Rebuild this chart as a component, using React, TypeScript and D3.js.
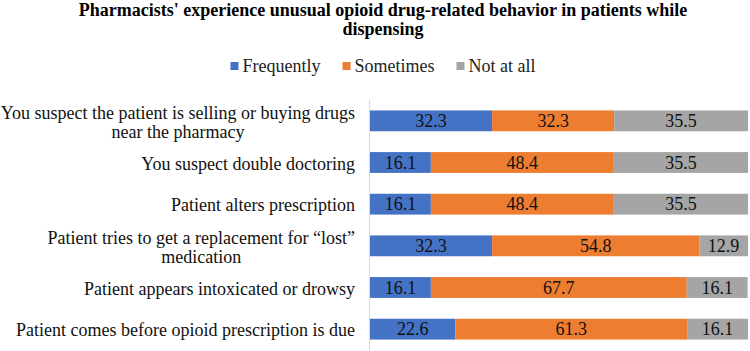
import React, { useEffect, useRef } from 'react';
import * as d3 from 'd3';

// survey answers, percent of pharmacists
const categories = [
  'You suspect the patient is selling or buying drugs\nnear the pharmacy',
  'You suspect double doctoring',
  'Patient alters prescription',
  'Patient tries to get a replacement for \u201clost\u201d\nmedication',
  'Patient appears intoxicated or drowsy',
  'Patient comes before opioid prescription is due',
];
const frequently = [32.3, 16.1, 16.1, 32.3, 16.1, 22.6];
const sometimes = [32.3, 48.4, 48.4, 54.8, 67.7, 61.3];
const notAtAll = [35.5, 35.5, 35.5, 12.9, 16.1, 16.1];
const seriesNames = ['Frequently', 'Sometimes', 'Not at all'];
const colors = ['#4472C4', '#ED7D31', '#A5A5A5'];

const W = 750;
const H = 351;
const FONT = '"Liberation Serif", "Times New Roman", serif';

const App = () => {
  const svgRef = useRef<SVGSVGElement>(null);

  useEffect(() => {
    const svg = d3.select(svgRef.current);
    svg.selectAll('*').remove();

    const rows = categories.map((c, i) => ({
      cat: c,
      Frequently: frequently[i],
      Sometimes: sometimes[i],
      'Not at all': notAtAll[i],
    }));
    const stacked = d3.stack<any>().keys(seriesNames)(rows);

    const x = d3.scaleLinear().domain([0, 100]).range([370, 748]);
    const y = d3.scaleBand().domain(categories).range([100, 350]).paddingInner(0.5).paddingOuter(0.25);
    const color = d3.scaleOrdinal<string>().domain(seriesNames).range(colors);

    // title
    const title = svg.append('text')
      .attr('text-anchor', 'middle')
      .attr('font-family', FONT)
      .attr('font-weight', 'bold')
      .attr('font-size', 18)
      .attr('fill', '#000');
    title.append('tspan').attr('x', 383).attr('y', 16)
      .text("Pharmacists' experience unusual opioid drug-related behavior in patients while");
    title.append('tspan').attr('x', 383).attr('y', 35).text('dispensing');

    // legend, laid out from measured text widths
    const legend = svg.append('g');
    const items = seriesNames.map(name => {
      const g = legend.append('g');
      g.append('rect')
        .attr('x', 0).attr('y', -10).attr('width', 8).attr('height', 8)
        .attr('fill', color(name));
      const t = g.append('text')
        .attr('x', 12)
        .attr('font-family', FONT).attr('font-size', 18).attr('fill', '#222')
        .text(name);
      return { g, w: 12 + (t.node() as SVGTextElement).getComputedTextLength() };
    });
    const gap = 22;
    const total = d3.sum(items, d => d.w) + gap * (items.length - 1);
    let lx = 383 - total / 2;
    items.forEach(it => {
      it.g.attr('transform', `translate(${lx},72)`);
      lx += it.w + gap;
    });

    // bars
    const groups = svg.append('g').selectAll('g')
      .data(stacked)
      .join('g')
      .attr('fill', d => color(d.key));
    groups.selectAll('rect')
      .data(d => d)
      .join('rect')
      .attr('x', d => x(d[0]))
      .attr('width', d => Math.min(x(d[1]), x(100)) - x(d[0]))
      .attr('y', d => y(d.data.cat)!)
      .attr('height', y.bandwidth());

    // value labels
    svg.append('g').selectAll('g')
      .data(stacked)
      .join('g')
      .selectAll('text')
      .data(d => d.map(v => ({ v, val: v[1] - v[0] })))
      .join('text')
      .attr('x', d => (x(d.v[0]) + Math.min(x(d.v[1]), x(100))) / 2)
      .attr('y', d => y(d.v.data.cat)! + y.bandwidth() / 2)
      .attr('dy', '0.35em')
      .attr('text-anchor', 'middle')
      .attr('font-family', FONT).attr('font-size', 18).attr('fill', '#111')
      .text(d => d.val.toFixed(1));

    // category axis
    svg.append('line')
      .attr('x1', x(0) - 0.5).attr('x2', x(0) - 0.5)
      .attr('y1', 100).attr('y2', H)
      .attr('stroke', '#d9d9d9');

    // category labels: block right-aligned, lines centred inside the block
    const labels = svg.append('g').selectAll('text')
      .data(categories)
      .join('text')
      .attr('text-anchor', 'middle')
      .attr('font-family', FONT).attr('font-size', 18).attr('fill', '#111');
    labels.each(function (c) {
      const lines = c.split('\n');
      const cy = y(c)! + y.bandwidth() / 2;
      const spans = lines.map((l, j) =>
        d3.select(this).append('tspan')
          .attr('y', cy + (j - (lines.length - 1) / 2) * 19)
          .attr('dy', '0.4em')
          .text(l));
      const maxW = d3.max(spans, s => (s.node() as SVGTSpanElement).getComputedTextLength())!;
      spans.forEach(s => s.attr('x', 355 - maxW / 2));
    });
  }, []);

  return (
    <svg ref={svgRef} width={W} height={H}
      style={{ position: 'absolute', left: 0, top: 0, background: '#fff' }} />
  );
};

export default App;
